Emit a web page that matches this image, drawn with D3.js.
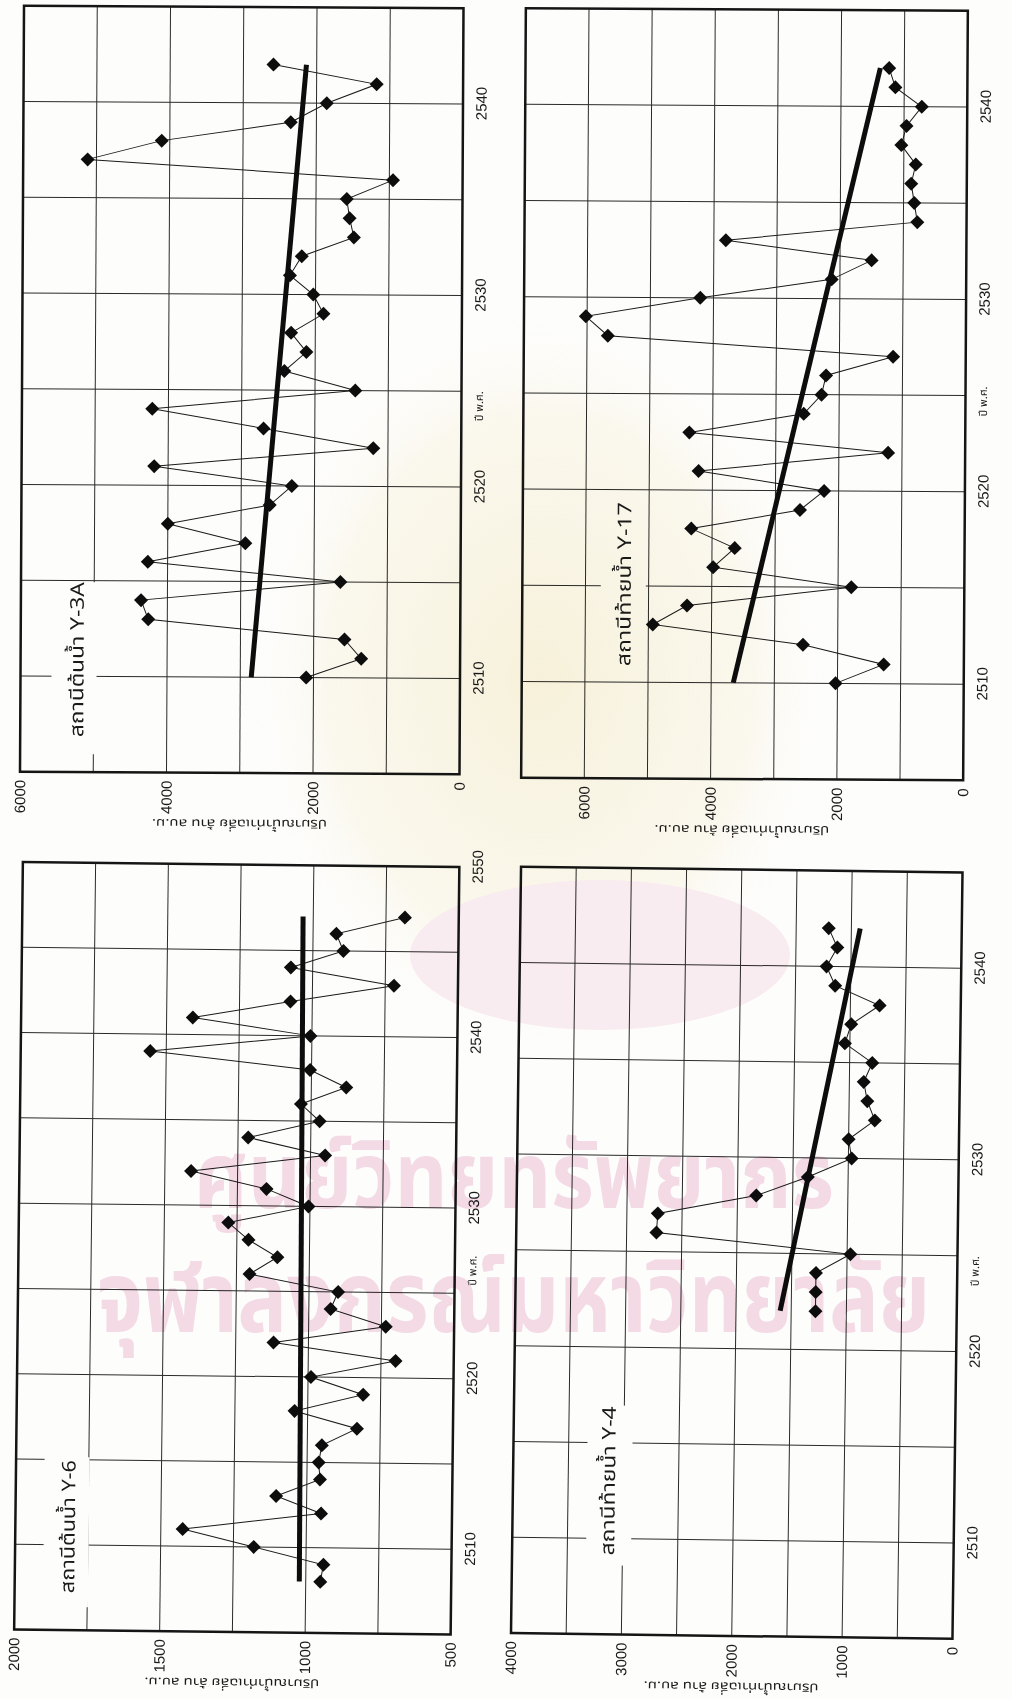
<!DOCTYPE html>
<html>
<head>
<meta charset="utf-8">
<script src="https://cdn.jsdelivr.net/npm/d3@7"></script>
<style>
  body { margin: 0; background: #fff; }
  svg { display: block; }
  .tick text { font-family: "Liberation Sans Narrow", "Arial Narrow", "Liberation Sans", sans-serif; font-size: 15px; fill: #1a1a1a; }
  .thai { font-family: "Noto Sans Thai", "Noto Sans Thai UI", "Loma", "Garuda", "Noto Sans", sans-serif; fill: #1a1a1a; }
</style>
</head>
<body>
<svg id="page" width="1012" height="1699"></svg>
<script>
// ---- data ----
var years3A = [2510,2511,2512,2513,2514,2515,2516,2517,2518,2519,2520,2521,2522,2523,2524,2525,2526,2527,2528,2529,2530,2531,2532,2533,2534,2535,2536,2537,2538,2539,2540,2541,2542];
var flow3A  = [2100,1350,1580,4260,4360,1640,4270,2940,4000,2610,2310,4190,1200,2700,4220,1450,2420,2120,2330,1890,2030,2350,2190,1480,1540,1580,950,5120,4110,2350,1860,1180,2590];
var trendYears3A = [2510, 2542];
var trend3A = [2850, 2140];

var years17 = [2510,2511,2512,2513,2514,2515,2516,2517,2518,2519,2520,2521,2522,2523,2524,2525,2526,2527,2528,2529,2530,2531,2532,2533,2534,2535,2536,2537,2538,2539,2540,2541,2542];
var flow17  = [2030,1270,2550,4930,4390,1790,3980,3640,4330,2610,2230,4220,1220,4370,2560,2280,2210,1150,5670,6020,4210,2130,1500,3810,780,830,880,810,1040,960,720,1140,1240];
var trendYears17 = [2510, 2542];
var trend17 = [3650, 1380];

var years6 = [2508,2509,2510,2511,2512,2513,2514,2515,2516,2517,2518,2519,2520,2521,2522,2523,2524,2525,2526,2527,2528,2529,2530,2531,2532,2533,2534,2535,2536,2537,2538,2539,2540,2541,2542,2543,2544,2545,2546,2547];
var flow6  = [950,940,1180,1425,950,1105,955,960,950,830,1045,810,990,700,1120,735,925,900,1205,1110,1210,1280,1005,1150,1410,950,1215,970,1035,880,1005,1555,1005,1410,1075,720,1075,895,920,685];
var trendYears6 = [2508, 2547];
var trend6 = [1022, 1035];

var years4 = [2522,2523,2524,2525,2526,2527,2528,2529,2530,2531,2532,2533,2534,2535,2536,2537,2538,2539,2540,2541,2542];
var flow4  = [1280,1280,1280,970,2730,2720,1830,1365,970,1000,765,835,870,795,1045,990,735,1140,1220,1125,1205];
var trendYears4 = [2522, 2542];
var trend4 = [1600, 920];

var yearTicks = [2510, 2520, 2530, 2540];
var yearTicks6 = [2510, 2520, 2530, 2540, 2550];
var valTicks3A = [0, 2000, 4000, 6000];
var valTicks17 = [0, 2000, 4000, 6000];
var valTicks6 = [500, 1000, 1500, 2000];
var valTicks4 = [0, 1000, 2000, 3000, 4000];

var yearTitle = "ปี พ.ศ.";
var valueTitle = "ปริมาณน้ำท่าเฉลี่ย ล้าน ลบ.ม.";

// ---- page layout (scan is rotated a quarter turn, slightly skewed) ----
var panels = [
  { name: "สถานีต้นน้ำ Y-3A", xs: years3A, ys: flow3A, tx: trendYears3A, ty: trend3A,
    box: {l: 22, r: 461.5, t: 7, b: 773}, skew: 0.3,
    yearDom: [2505, 2545], yearTicks: yearTicks, valDom: [0, 6000], valStep: 1000, valTicks: valTicks3A,
    label: {x0: 53, x1: 98, y0: 583, y1: 755, base: 85, ty0: 738, ty1: 583}, yearTitleY: 405 },
  { name: "สถานีท้ายน้ำ Y-17", xs: years17, ys: flow17, tx: trendYears17, ty: trend17,
    box: {l: 523.5, r: 965.5, t: 9.5, b: 779}, skew: 0.35,
    yearDom: [2505, 2545], yearTicks: yearTicks, valDom: [0, 7000], valStep: 1000, valTicks: valTicks17,
    label: {x0: 602, x1: 647, y0: 502, y1: 680, base: 632, ty0: 667, ty1: 503}, yearTitleY: 400 },
  { name: "สถานีต้นน้ำ Y-6", xs: years6, ys: flow6, tx: trendYears6, ty: trend6,
    box: {l: 18.5, r: 455, t: 864.5, b: 1632}, skew: 0.65,
    yearDom: [2505, 2550], yearTicks: yearTicks6, valDom: [500, 2000], valStep: 250, valTicks: valTicks6,
    label: {x0: 47, x1: 92, y0: 1459, y1: 1609, base: 78, ty0: 1595, ty1: 1462}, yearTitleY: 1268 },
  { name: "สถานีท้ายน้ำ Y-4", xs: years4, ys: flow4, tx: trendYears4, ty: trend4,
    box: {l: 516, r: 957.5, t: 869.5, b: 1636}, skew: 0.75,
    yearDom: [2505, 2545], yearTicks: yearTicks, valDom: [0, 4000], valStep: 500, valTicks: valTicks4,
    label: {x0: 590, x1: 635, y0: 1407, y1: 1567, base: 618, ty0: 1557, ty1: 1408}, yearTitleY: 1268 }
];

var svg = d3.select("#page");
svg.append("rect").attr("width", 1012).attr("height", 1699).attr("fill", "#fdfdfc");

panels.forEach(function(p) {
  var b = p.box,
      W = b.b - b.t,          // length of the year axis
      H = b.r - b.l,          // length of the value axis
      cx = (b.l + b.r) / 2, cy = (b.t + b.b) / 2;

  var outer = svg.append("g").attr("transform", "rotate(" + p.skew + "," + cx + "," + cy + ")");
  var g = outer.append("g").attr("transform", "translate(" + b.l + "," + b.b + ") rotate(-90)");

  var x = d3.scaleLinear().domain(p.yearDom).range([0, W]);
  var y = d3.scaleLinear().domain(p.valDom).range([H, 0]);

  // grid
  var yearGrid = d3.range(p.yearDom[0] + 5, p.yearDom[1], 5);
  var valGrid = d3.range(p.valDom[0] + p.valStep, p.valDom[1], p.valStep);
  g.append("g").selectAll("line").data(yearGrid).join("line")
    .attr("x1", function(d) { return x(d); }).attr("x2", function(d) { return x(d); })
    .attr("y1", 0).attr("y2", H)
    .attr("stroke", "#2a2a2a").attr("stroke-width", 1);
  g.append("g").selectAll("line").data(valGrid).join("line")
    .attr("y1", function(d) { return y(d); }).attr("y2", function(d) { return y(d); })
    .attr("x1", 0).attr("x2", W)
    .attr("stroke", "#2a2a2a").attr("stroke-width", 1);

  // station text box (screen coords -> local)
  var lb = p.label;
  g.append("rect")
    .attr("x", b.b - lb.y1).attr("y", lb.x0 - b.l)
    .attr("width", lb.y1 - lb.y0).attr("height", lb.x1 - lb.x0)
    .attr("fill", "#fdfdfc");
  g.append("text").attr("class", "thai")
    .attr("x", b.b - lb.ty0).attr("y", lb.base - b.l)
    .attr("font-size", 19)
    .attr("textLength", lb.ty0 - lb.ty1).attr("lengthAdjust", "spacingAndGlyphs")
    .text(p.name);

  // frame
  g.append("rect").attr("width", W).attr("height", H)
    .attr("fill", "none").attr("stroke", "#151515").attr("stroke-width", 2.5);

  // axes
  var ax = g.append("g").attr("transform", "translate(0," + H + ")")
    .call(d3.axisBottom(x).tickValues(p.yearTicks).tickSize(0).tickPadding(13).tickFormat(d3.format("d")));
  ax.select(".domain").remove();
  var ay = g.append("g")
    .call(d3.axisLeft(y).tickValues(p.valTicks).tickSize(0).tickPadding(8).tickFormat(d3.format("d")));
  ay.select(".domain").remove();

  g.append("text").attr("class", "thai")
    .attr("x", b.b - p.yearTitleY).attr("y", H + 13).attr("dy", "0.78em")
    .attr("text-anchor", "middle").attr("font-size", 11)
    .text(yearTitle);
  g.append("text").attr("class", "thai")
    .attr("transform", "translate(-50," + (H / 2) + ") rotate(-90)")
    .attr("text-anchor", "middle").attr("dominant-baseline", "middle")
    .attr("font-size", 12).attr("textLength", 175).attr("lengthAdjust", "spacingAndGlyphs")
    .text(valueTitle);

  // series
  var pts = p.xs.map(function(d, i) { return [d, p.ys[i]]; });
  var line = d3.line().x(function(d) { return x(d[0]); }).y(function(d) { return y(d[1]); });
  g.append("path").datum(pts).attr("d", line)
    .attr("fill", "none").attr("stroke", "#1a1a1a").attr("stroke-width", 1);

  var trend = p.tx.map(function(d, i) { return [d, p.ty[i]]; });
  g.append("path").datum(trend).attr("d", line)
    .attr("fill", "none").attr("stroke", "#0d0d0d").attr("stroke-width", 5);

  var diamond = d3.symbol(d3.symbolSquare, 98);
  g.append("g").selectAll("path").data(pts).join("path")
    .attr("d", diamond)
    .attr("transform", function(d) { return "translate(" + x(d[0]) + "," + y(d[1]) + ") rotate(45)"; })
    .attr("fill", "#0d0d0d");
});

// library watermark printed over the page
var wm = svg.append("g").style("mix-blend-mode", "multiply");
var defs = svg.append("defs");
var rg = defs.append("radialGradient").attr("id", "glow");
rg.append("stop").attr("offset", "0%").attr("stop-color", "#f5ebc6").attr("stop-opacity", 0.6);
rg.append("stop").attr("offset", "70%").attr("stop-color", "#f8f1d9").attr("stop-opacity", 0.4);
rg.append("stop").attr("offset", "100%").attr("stop-color", "#ffffff").attr("stop-opacity", 0);
wm.append("ellipse").attr("cx", 540).attr("cy", 680).attr("rx", 300).attr("ry", 380).attr("fill", "url(#glow)");
wm.append("ellipse").attr("cx", 600).attr("cy", 955).attr("rx", 190).attr("ry", 75).attr("fill", "#fbeef3");
wm.append("text").attr("class", "thai")
  .attr("x", 194).attr("y", 1208).attr("font-size", 92).attr("font-weight", "bold")
  .attr("textLength", 640).attr("lengthAdjust", "spacingAndGlyphs")
  .style("fill", "#f5dce8").text("ศูนย์วิทยทรัพยากร");
wm.append("text").attr("class", "thai")
  .attr("x", 97).attr("y", 1332).attr("font-size", 100).attr("font-weight", "bold")
  .attr("textLength", 833).attr("lengthAdjust", "spacingAndGlyphs")
  .style("fill", "#f5dce8").text("จุฬาลงกรณ์มหาวิทยาลัย");
</script>
</body>
</html>
